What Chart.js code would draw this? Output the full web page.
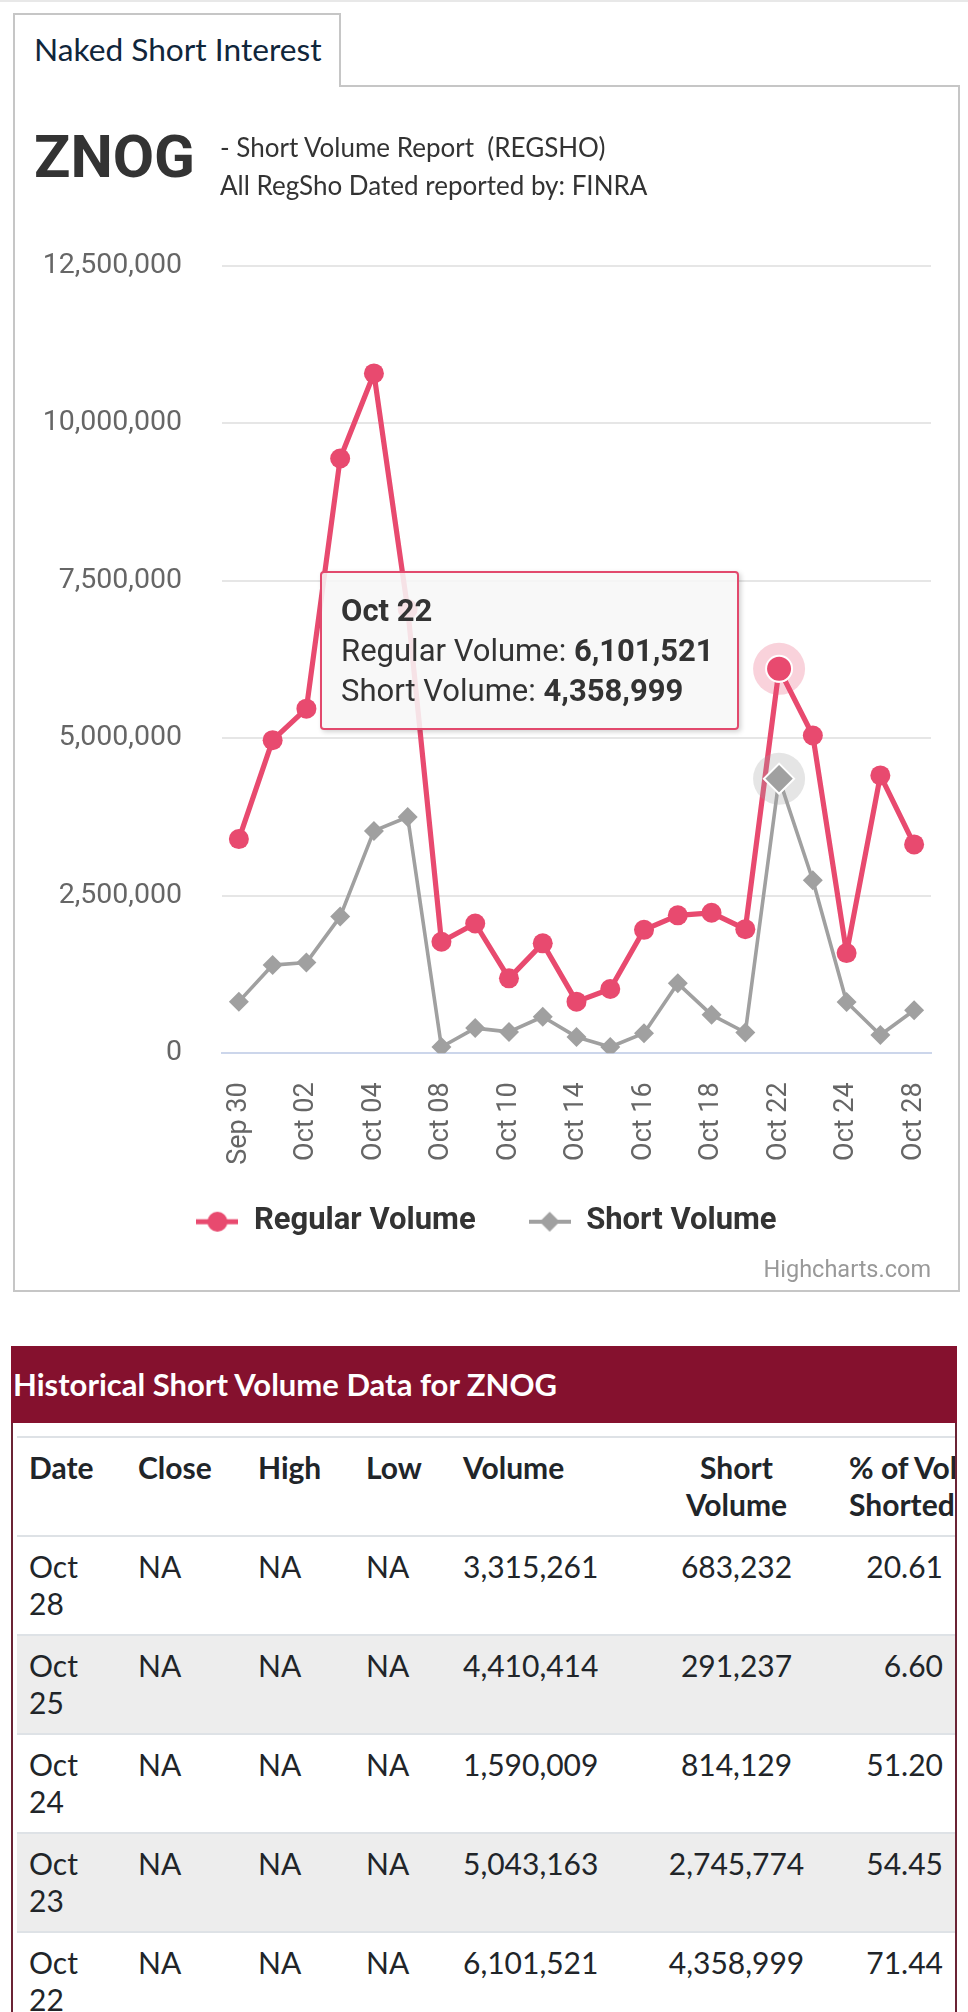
<!DOCTYPE html>
<html>
<head>
<meta charset="utf-8">
<script src="https://cdn.jsdelivr.net/npm/chart.js@4.4.1/dist/chart.umd.min.js"></script>
<style>
html,body{margin:0;padding:0;background:#fff;}
body{width:968px;height:2012px;position:relative;overflow:hidden;font-family:Lato,sans-serif;}
.topline{position:absolute;left:0;top:0;width:968px;height:2px;background:#e8e8e8;}
.panel{position:absolute;left:13px;top:85px;width:947px;height:1207px;border:2px solid #c6c6c6;box-sizing:border-box;background:#fff;}
.tab{position:absolute;left:13px;top:13px;width:328px;height:74px;border:2px solid #c6c6c6;border-bottom:none;box-sizing:border-box;background:#fff;z-index:2;}
.tabtext{position:absolute;left:34px;top:31px;font-family:Lato,sans-serif;font-size:31.7px;line-height:37px;color:#10263b;white-space:nowrap;z-index:3;}
.sym{position:absolute;left:34px;top:122px;font-family:Roboto,sans-serif;font-weight:bold;font-size:60px;line-height:70px;color:#333;z-index:3;}
.sub{position:absolute;left:220px;font-family:Lato,sans-serif;font-size:26px;line-height:31px;color:#333;white-space:nowrap;z-index:3;}
.wrap{position:absolute;left:16px;top:87px;width:941px;height:1203px;z-index:1;}
#tip{position:absolute;display:none;box-sizing:border-box;padding:18px 23px 17px 19px;border:2px solid #e2496d;border-radius:4px;background:rgba(247,247,247,0.88);box-shadow:2px 2px 5px rgba(0,0,0,0.18);font-family:Roboto,sans-serif;font-size:31px;line-height:40px;color:#333;white-space:nowrap;z-index:5;}
#tip .t{font-weight:bold;}
#tip b{font-weight:bold;}
.credit{position:absolute;right:37px;top:1256px;font-family:Roboto,sans-serif;font-size:23.5px;line-height:27px;color:#999;z-index:3;}
.tblbox{position:absolute;left:11px;top:1346px;width:946px;height:666px;overflow:hidden;}
.tblhead{height:77px;background:#85112e;color:#fff;font-family:Lato,sans-serif;font-weight:bold;font-size:31px;line-height:77px;padding-left:2px;white-space:nowrap;}
.tblbody{position:absolute;left:0;top:77px;width:946px;height:600px;border-left:2px solid #6b2435;border-right:2px solid #6b2435;box-sizing:border-box;overflow:hidden;}
table{position:absolute;left:4px;top:13px;border-collapse:collapse;table-layout:fixed;width:938px;font-family:Lato,sans-serif;font-size:30px;line-height:37px;color:#212529;}
th,td{padding:11px 12px 12px 12px;border-top:2px solid #dee2e6;vertical-align:top;text-align:left;overflow:visible;}
th{font-weight:bold;white-space:nowrap;}
tr.odd td{background:#ededed;}
td.c,th.c{text-align:center;}
td.r{text-align:right;}
th.r{text-align:left;}
td.d{padding-right:24px;}
</style>
</head>
<body>
<div class="topline"></div>
<div class="panel"></div>
<div class="tab"></div>
<div class="tabtext">Naked Short Interest</div>
<div class="sym">ZNOG</div>
<div class="sub" style="top:132px;">- Short Volume Report&nbsp; (REGSHO)</div>
<div class="sub" style="top:170px;">All RegSho Dated reported by: FINRA</div>
<div class="wrap"><canvas id="c"></canvas><div id="tip"></div></div>
<div class="credit">Highcharts.com</div>
<div class="tblbox">
  <div class="tblhead">Historical Short Volume Data for ZNOG</div>
  <div class="tblbody">
    <table id="tbl">
      <colgroup><col style="width:109px"><col style="width:120px"><col style="width:108px"><col style="width:97px"><col style="width:185px"><col style="width:201px"><col style="width:118px"></colgroup>
      <thead><tr><th>Date</th><th>Close</th><th>High</th><th>Low</th><th>Volume</th><th class="c">Short<br>Volume</th><th class="r">% of Vol<br>Shorted</th></tr></thead>
      <tbody id="tbody"></tbody>
    </table>
  </div>
</div>
<script>
// ---- data ----
const categories = ['Sep 30','Oct 01','Oct 02','Oct 03','Oct 04','Oct 07','Oct 08','Oct 09','Oct 10','Oct 11','Oct 14','Oct 15','Oct 16','Oct 17','Oct 18','Oct 21','Oct 22','Oct 23','Oct 24','Oct 25','Oct 28'];
const regularVolume = [3400000,4970000,5470000,9440000,10790000,7050000,1770000,2060000,1190000,1745000,820000,1020000,1960000,2190000,2230000,1970000,6101521,5043163,1590009,4410414,3315261];
const shortVolume = [820000,1400000,1440000,2170000,3530000,3750000,100000,400000,340000,580000,260000,100000,320000,1110000,610000,330000,4358999,2745774,814129,291237,683232];
const yTicks = [0,2500000,5000000,7500000,10000000,12500000];
const seriesNames = ['Regular Volume','Short Volume'];
const tableRowCount = 5;
const highlightIndex = 16;

const REG_COLOR = '#e84a6f';
const SHORT_COLOR = '#a0a0a0';

function fmt(v){ return v.toLocaleString('en-US'); }

// ---- table ----
(function(){
  const tb = document.getElementById('tbody');
  for (let k = 0; k < tableRowCount; k++) {
    const i = categories.length - 1 - k;
    const pct = (shortVolume[i] / regularVolume[i] * 100).toFixed(2);
    const tr = document.createElement('tr');
    if (k % 2 === 1) tr.className = 'odd';
    tr.innerHTML = '<td class="d">' + categories[i] + '</td><td>NA</td><td>NA</td><td>NA</td><td>' + fmt(regularVolume[i]) + '</td><td class="c">' + fmt(shortVolume[i]) + '</td><td class="r">' + pct + '</td>';
    tb.appendChild(tr);
  }
})();

// ---- legend icons ----
function legendIcon(color, lineW, shape) {
  const c = document.createElement('canvas');
  c.width = 42; c.height = 26;
  const g = c.getContext('2d');
  g.strokeStyle = color; g.lineWidth = lineW;
  g.beginPath(); g.moveTo(0, 13); g.lineTo(42, 13); g.stroke();
  g.fillStyle = color;
  g.beginPath();
  if (shape === 'circle') { g.arc(21, 13, 10, 0, Math.PI * 2); }
  else { g.moveTo(21, 3); g.lineTo(31, 13); g.lineTo(21, 23); g.lineTo(11, 13); g.closePath(); }
  g.fill();
  return c;
}
const regIcon = legendIcon(REG_COLOR, 5, 'circle');
const shortIcon = legendIcon(SHORT_COLOR, 4, 'diamond');

// ---- halo plugin: hover halo behind the active markers ----
const haloPlugin = {
  id: 'halo',
  afterDatasetDraw(chart, args) {
    const ds = chart.data.datasets[args.index];
    const ctx = chart.ctx;
    chart.getActiveElements().filter(a => a.datasetIndex === args.index).forEach(a => {
      const el = a.element;
      ctx.save();
      ctx.fillStyle = ds.haloColor;
      ctx.beginPath();
      ctx.arc(el.x, el.y, 26, 0, Math.PI * 2);
      ctx.fill();
      ctx.restore();
      el.draw(ctx, chart.chartArea);
    });
  }
};

// ---- move legend up closer to the axis labels (keeps item spacing) ----
const LEGEND_SHIFT = 14.1;
const legendShiftPlugin = {
  id: 'legendShift',
  afterLayout(chart) {
    if (chart.legend) { chart.legend.top -= LEGEND_SHIFT; chart.legend.bottom -= LEGEND_SHIFT; }
  }
};

Chart.defaults.font.family = 'Roboto, sans-serif';

const chart = new Chart(document.getElementById('c'), {
  type: 'line',
  data: {
    labels: categories,
    datasets: [
      {
        label: seriesNames[0], data: regularVolume, order: 1,
        borderColor: REG_COLOR, backgroundColor: REG_COLOR, borderWidth: 5.2,
        borderJoinStyle: 'round', borderCapStyle: 'round', tension: 0,
        pointStyle: 'circle', pointRadius: 10, pointBorderWidth: 0,
        pointBackgroundColor: REG_COLOR, pointBorderColor: REG_COLOR,
        pointHoverRadius: 13, pointHoverBorderWidth: 2, pointHoverBorderColor: '#ffffff', pointHoverBackgroundColor: REG_COLOR,
        haloColor: 'rgba(232,74,111,0.25)'
      },
      {
        label: seriesNames[1], data: shortVolume, order: 0,
        borderColor: SHORT_COLOR, backgroundColor: SHORT_COLOR, borderWidth: 3.6,
        borderJoinStyle: 'round', borderCapStyle: 'round', tension: 0,
        pointStyle: 'rectRot', pointRadius: 10, pointBorderWidth: 0,
        pointBackgroundColor: SHORT_COLOR, pointBorderColor: SHORT_COLOR,
        pointHoverRadius: 15, pointHoverBorderWidth: 2, pointHoverBorderColor: '#ffffff', pointHoverBackgroundColor: SHORT_COLOR,
        haloColor: 'rgba(160,160,160,0.28)'
      }
    ]
  },
  options: {
    responsive: true,
    maintainAspectRatio: false,
    animation: false,
    devicePixelRatio: 1,
    interaction: { mode: 'index', intersect: false },
    layout: { padding: { left: 26, right: 26, top: 178.7, bottom: 28.7 } },
    scales: {
      x: {
        type: 'category',
        offset: true,
        grid: { display: false, drawTicks: true, tickLength: 29 },
        border: { display: true, color: '#ccd6eb', width: 2 },
        ticks: {
          autoSkip: false, maxRotation: 90, minRotation: 90, padding: 0,
          color: '#666666', font: { size: 27 },
          callback: (v, i) => (i % 2 === 0 ? categories[i] : '')
        },
        afterFit: (s) => { s.height = 114; }
      },
      y: {
        min: yTicks[0], max: yTicks[yTicks.length - 1],
        afterBuildTicks: (s) => { s.ticks = yTicks.map(v => ({ value: v })); },
        grid: { color: (c) => (c.tick && c.tick.value === 0 ? 'rgba(0,0,0,0)' : '#e6e6e6'), lineWidth: 2, drawTicks: false },
        border: { display: false },
        ticks: { padding: 40, color: '#666666', font: { size: 28.5 }, callback: (v) => fmt(v) },
        afterFit: (s) => { s.width = 180; }
      }
    },
    plugins: {
      legend: {
        position: 'bottom',
        labels: {
          usePointStyle: true, pointStyleWidth: 42, padding: 53,
          color: '#333333', font: { size: 31, weight: 'bold' },
          generateLabels: (ch) => [
            { text: seriesNames[0], pointStyle: regIcon, fillStyle: REG_COLOR, strokeStyle: REG_COLOR, lineWidth: 0, datasetIndex: 0, hidden: false, fontColor: '#333333' },
            { text: seriesNames[1], pointStyle: shortIcon, fillStyle: SHORT_COLOR, strokeStyle: SHORT_COLOR, lineWidth: 0, datasetIndex: 1, hidden: false, fontColor: '#333333' }
          ]
        }
      },
      tooltip: {
        enabled: false,
        external: (context) => {
          const { chart, tooltip } = context;
          const el = document.getElementById('tip');
          if (!tooltip.dataPoints || !tooltip.dataPoints.length) { el.style.display = 'none'; return; }
          const pts = tooltip.dataPoints.slice().sort((a, b) => a.datasetIndex - b.datasetIndex);
          let html = '<div class="t">' + pts[0].label + '</div>';
          pts.forEach(p => { html += '<div>' + p.dataset.label + ': <b>' + fmt(p.raw) + '</b></div>'; });
          el.innerHTML = html;
          el.style.display = 'block';
          const ref = pts[0].element;
          el.style.left = (chart.canvas.offsetLeft + ref.x - 40 - el.offsetWidth) + 'px';
          el.style.top = (chart.canvas.offsetTop + ref.y - 98) + 'px';
        }
      }
    }
  },
  plugins: [haloPlugin, legendShiftPlugin]
});

const act = [{ datasetIndex: 0, index: highlightIndex }, { datasetIndex: 1, index: highlightIndex }];
chart.setActiveElements(act);
chart.tooltip.setActiveElements(act, { x: 0, y: 0 });
chart.update();
</script>
</body>
</html>
